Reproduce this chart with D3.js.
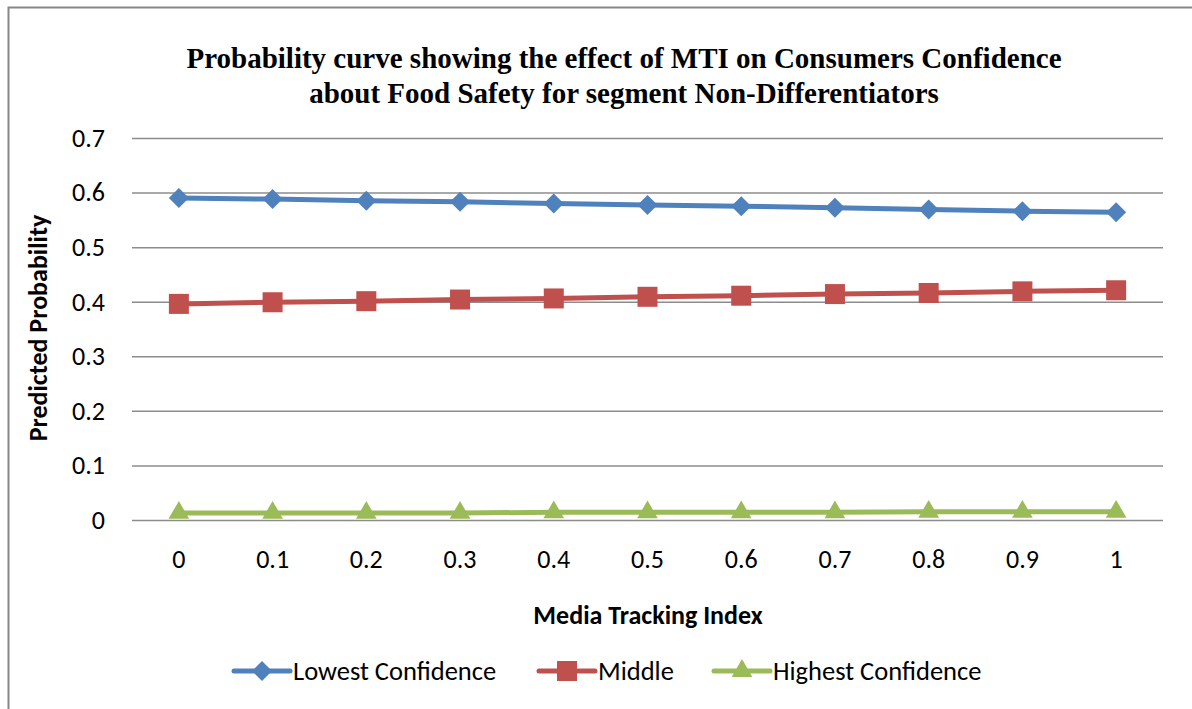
<!DOCTYPE html>
<html>
<head>
<meta charset="utf-8">
<script src="https://cdn.jsdelivr.net/npm/d3@7"></script>
<style>
  body { margin: 0; background: #fff; }
  svg { display: block; }
</style>
</head>
<body>
<div id="chart"></div>
<script>
// values
const mti = ["0", "0.1", "0.2", "0.3", "0.4", "0.5", "0.6", "0.7", "0.8", "0.9", "1"];
const lowestConf = [0.590, 0.588, 0.585, 0.583, 0.580, 0.577, 0.575, 0.572, 0.569, 0.566, 0.564];
const middleConf = [0.396, 0.399, 0.401, 0.404, 0.406, 0.409, 0.411, 0.414, 0.416, 0.419, 0.421];
const highestConf = [0.013, 0.013, 0.013, 0.013, 0.014, 0.014, 0.014, 0.014, 0.015, 0.015, 0.015];
const yTicks = [0, 0.1, 0.2, 0.3, 0.4, 0.5, 0.6, 0.7];

const series = [
  { name: "Lowest Confidence", values: lowestConf, color: "#4f81bd", shape: "diamond" },
  { name: "Middle", values: middleConf, color: "#c0504d", shape: "square" },
  { name: "Highest Confidence", values: highestConf, color: "#9bbb59", shape: "triangle" }
];

var width = 1192, height = 709;
var labelFont = "Carlito, Lato, 'Liberation Sans', sans-serif";

var svg = d3.select("#chart").append("svg")
  .attr("width", width)
  .attr("height", height);

// chart frame (only top & left edges show in the picture)
svg.append("path")
  .attr("d", "M8.5,709 L8.5,7.5 L1192,7.5")
  .attr("fill", "none")
  .attr("stroke", "#888")
  .attr("stroke-width", 2);

var plot = { left: 132, right: 1163, top: 138, bottom: 520 };

var x = d3.scaleBand().domain(mti).range([plot.left, plot.right]);
var y = d3.scaleLinear().domain([0, 0.7]).range([plot.bottom, plot.top]);

// title
var title = svg.append("text")
  .attr("text-anchor", "middle")
  .style("font-family", "'Liberation Serif', 'Times New Roman', serif")
  .style("font-weight", "bold")
  .style("font-size", "29px")
  .attr("fill", "#000");
title.append("tspan").attr("x", 624).attr("y", 68)
  .text("Probability curve showing the effect of MTI on Consumers Confidence");
title.append("tspan").attr("x", 624).attr("y", 103)
  .text("about Food Safety for segment Non-Differentiators");

// gridlines + y labels
var yAxis = d3.axisLeft(y).tickValues(yTicks)
  .tickSize(-(plot.right - plot.left))
  .tickPadding(27)
  .tickFormat(d3.format(".1~f"));
var gy = svg.append("g")
  .attr("transform", "translate(" + plot.left + ",0)")
  .call(yAxis);
gy.select(".domain").remove();
gy.selectAll(".tick line").attr("stroke", "#8c8c8c").attr("stroke-width", 1.5);
gy.selectAll(".tick text")
  .style("font-family", labelFont)
  .style("font-size", "26px")
  .attr("fill", "#000");

// x labels
var xAxis = d3.axisBottom(x).tickSize(0).tickPadding(30);
var gx = svg.append("g")
  .attr("transform", "translate(0," + plot.bottom + ")")
  .call(xAxis);
gx.select(".domain").remove();
gx.selectAll(".tick text")
  .style("font-family", labelFont)
  .style("font-size", "26px")
  .attr("fill", "#000");

// axis titles
svg.append("text")
  .attr("x", 648).attr("y", 624)
  .attr("text-anchor", "middle")
  .style("font-family", labelFont)
  .style("font-weight", "bold")
  .style("font-size", "26px")
  .text("Media Tracking Index");

svg.append("text")
  .attr("transform", "translate(47,328) rotate(-90)")
  .attr("text-anchor", "middle")
  .style("font-family", labelFont)
  .style("font-weight", "bold")
  .style("font-size", "26px")
  .text("Predicted Probability");

var symbols = {
  diamond: d3.symbol().type(d3.symbolSquare).size(200),
  square: d3.symbol().type(d3.symbolSquare).size(400),
  triangle: d3.symbol().type(d3.symbolTriangle).size(185)
};

function drawMarker(g, shape, color) {
  var p = g.append("path").attr("d", symbols[shape]()).attr("fill", color);
  if (shape === "diamond") p.attr("transform", "rotate(45)");
  return p;
}

var line = d3.line()
  .x(function(d, i) { return x(mti[i]) + x.bandwidth() / 2; })
  .y(function(d) { return y(d); });

series.forEach(function(s) {
  var g = svg.append("g");
  g.append("path")
    .datum(s.values)
    .attr("d", line)
    .attr("fill", "none")
    .attr("stroke", s.color)
    .attr("stroke-width", 5)
    .attr("stroke-linejoin", "round");
  s.values.forEach(function(v, i) {
    var m = g.append("g")
      .attr("transform", "translate(" + (x(mti[i]) + x.bandwidth() / 2) + "," + y(v) + ")");
    drawMarker(m, s.shape, s.color);
  });
});

// legend
var legendItems = [
  { x0: 234, x1: 290, tx: 293 },
  { x0: 539, x1: 595, tx: 598 },
  { x0: 714, x1: 770, tx: 773 }
];
var legendY = 671;
series.forEach(function(s, i) {
  var it = legendItems[i];
  var lg = svg.append("g");
  lg.append("line")
    .attr("x1", it.x0).attr("x2", it.x1)
    .attr("y1", legendY).attr("y2", legendY)
    .attr("stroke", s.color).attr("stroke-width", 5)
    .attr("stroke-linecap", "round");
  var m = lg.append("g")
    .attr("transform", "translate(" + ((it.x0 + it.x1) / 2) + "," + legendY + ")");
  drawMarker(m, s.shape, s.color);
  lg.append("text")
    .attr("x", it.tx).attr("y", legendY + 9)
    .style("font-family", labelFont)
    .style("font-size", "26.5px")
    .attr("fill", "#000")
    .text(s.name);
});
</script>
</body>
</html>
